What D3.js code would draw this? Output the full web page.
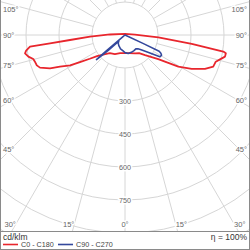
<!DOCTYPE html>
<html>
<head>
<meta charset="utf-8">
<script src="https://cdn.jsdelivr.net/npm/d3@7"></script>
<style>
  html, body { margin: 0; padding: 0; background: #fff; }
  svg { display: block; font-family: "Liberation Sans", Arial, sans-serif; }
</style>
</head>
<body>
<svg id="ldc" width="250" height="250"></svg>
<script>
// polar light distribution curve, values in cd/klm, gamma in degrees from nadir

// C0 - C180 plane (red), one half per side: [gamma, cd/klm]
const c180Left = [
  [0, 82], [15, 85], [28, 98], [40, 107], [46, 125], [53, 159], [56, 193],
  [59, 239], [61, 285], [64, 329], [66, 373], [69, 414], [71, 424],
  [73.5, 427], [75.3, 431], [77.4, 450], [79.6, 462], [81, 455], [83, 435],
  [83.6, 343], [84.8, 251], [87.5, 159], [92, 68], [180, 5]
];
const c0Right = [
  [0, 82], [12, 84], [28.7, 95], [38, 104], [45, 129], [54, 187], [59.3, 282],
  [63, 340], [67, 395], [70.3, 426], [73.6, 430], [75.6, 446], [77.8, 465],
  [79.7, 466], [80.4, 453], [82.5, 306], [86, 152], [91.7, 45], [180, 5]
];

// C90 - C270 plane (blue)
const c270Left = [
  [0, 80], [8, 72], [18, 66], [30, 56], [40, 48], [45, 40], [46.5, 62],
  [47.5, 105], [48.5, 140], [49.3, 171], [49.7, 120], [50.2, 10], [52, 0], [180, 0]
];
const c90Right = [
  [0, 80], [10, 85], [20, 84], [30, 82], [38, 80], [43, 86], [46.5, 96],
  [50, 112], [54, 140], [58, 187], [61, 190], [63, 183], [64.5, 172],
  [65, 90], [65.4, 8], [67, 0], [180, 0]
];

const ringValues = [150, 300, 450, 600, 750, 900, 1050];
const ringLabels = [300, 450, 600, 750];
const spokeAngles = d3.range(0, 181, 15);
const sideLabels = [45, 60, 75, 90, 105];
const bottomLabels = [0, 15, 30];

const legendItems = [
  { name: "C0 - C180", color: "#e8262d" },
  { name: "C90 - C270", color: "#34489c" }
];

const W = 250, H = 250;
const cx = 125, cy = 35;
const plotBottom = 231;

const svg = d3.select("#ldc");
const r = d3.scaleLinear().domain([0, 150]).range([0, 33]);

svg.append("defs").append("clipPath").attr("id", "plotClip")
  .append("rect").attr("x", 0).attr("y", 0).attr("width", W).attr("height", plotBottom);

const grid = svg.append("g").attr("clip-path", "url(#plotClip)");
const g = svg.append("g").attr("transform", `translate(${cx},${cy})`);
const gridInner = grid.append("g").attr("transform", `translate(${cx},${cy})`);

// rings
gridInner.selectAll("circle.ring")
  .data(ringValues)
  .join("circle")
  .attr("class", "ring")
  .attr("r", d => r(d))
  .attr("fill", "none")
  .attr("stroke", "#d6d6d6")
  .attr("stroke-width", 1);

// spokes, both sides, starting at the first ring
const rad = Math.PI / 180;
const spokes = [];
spokeAngles.forEach(a => {
  spokes.push(a);
  if (a !== 0 && a !== 180) spokes.push(-a);
});
gridInner.selectAll("line.spoke")
  .data(spokes)
  .join("line")
  .attr("class", "spoke")
  .attr("x1", d => r(150) * Math.sin(d * rad))
  .attr("y1", d => r(150) * Math.cos(d * rad))
  .attr("x2", d => 400 * Math.sin(d * rad))
  .attr("y2", d => 400 * Math.cos(d * rad))
  .attr("stroke", "#d6d6d6")
  .attr("stroke-width", 1);

// curves: left half at angle pi+gamma, right half at pi-gamma (d3 radial 0 = up)
const radial = d3.lineRadial()
  .angle(d => d[0])
  .radius(d => r(d[1]))
  .curve(d3.curveLinearClosed);

function closedShape(left, right) {
  const pts = left.map(p => [Math.PI + p[0] * rad, p[1]]);
  const rightPts = right.slice().reverse().map(p => [Math.PI - p[0] * rad, p[1]]);
  return pts.concat(rightPts);
}

g.append("path")
  .datum(closedShape(c180Left, c0Right))
  .attr("d", radial)
  .attr("fill", "none")
  .attr("stroke", legendItems[0].color)
  .attr("stroke-width", 1.8)
  .attr("stroke-linejoin", "round");

g.append("path")
  .datum(closedShape(c270Left, c90Right))
  .attr("d", radial)
  .attr("fill", "none")
  .attr("stroke", legendItems[1].color)
  .attr("stroke-width", 1.6)
  .attr("stroke-linejoin", "round");

// ring value labels along the nadir
gridInner.selectAll("text.ringlabel")
  .data(ringLabels)
  .join("text")
  .attr("class", "ringlabel")
  .attr("x", 0)
  .attr("y", d => r(d))
  .attr("dy", "0.35em")
  .attr("text-anchor", "middle")
  .attr("font-size", 7.2)
  .attr("fill", "#666")
  .attr("stroke", "#fff")
  .attr("stroke-width", 3)
  .attr("paint-order", "stroke")
  .text(d => d);

// angle labels on the frame
const angleLab = svg.append("g")
  .attr("font-size", 7.5)
  .attr("fill", "#666");

function halo(sel) {
  return sel.attr("stroke", "#fff").attr("stroke-width", 3).attr("paint-order", "stroke");
}

sideLabels.forEach(a => {
  const t = (cx - 11) / Math.sin(a * rad);
  const y = Math.max(9, cy + t * Math.cos(a * rad));
  halo(angleLab.append("text").attr("x", 3).attr("y", y).attr("dy", "0.35em")
    .attr("text-anchor", "start").text(a + "°"));
  halo(angleLab.append("text").attr("x", W - 3).attr("y", y).attr("dy", "0.35em")
    .attr("text-anchor", "end").text(a + "°"));
});

bottomLabels.forEach(a => {
  const yb = 224;
  const dx = (yb - cy) * Math.tan(a * rad);
  if (a === 0) {
    halo(angleLab.append("text").attr("x", cx).attr("y", yb).attr("dy", "0.35em")
      .attr("text-anchor", "middle").text("0°"));
  } else {
    halo(angleLab.append("text").attr("x", cx - dx).attr("y", yb).attr("dy", "0.35em")
      .attr("text-anchor", "end").text(a + "°"));
    halo(angleLab.append("text").attr("x", cx + dx).attr("y", yb).attr("dy", "0.35em")
      .attr("text-anchor", "start").text(a + "°"));
  }
});

// frame
const frame = svg.append("g").attr("stroke", "#8a8a8a").attr("stroke-width", 1);
frame.append("line").attr("x1", 0.5).attr("y1", 0).attr("x2", 0.5).attr("y2", H);
frame.append("line").attr("x1", W - 0.5).attr("y1", 0).attr("x2", W - 0.5).attr("y2", H);
frame.append("line").attr("x1", 0).attr("y1", H - 0.5).attr("x2", W).attr("y2", H - 0.5);
frame.append("line").attr("x1", 0).attr("y1", plotBottom + 0.5).attr("x2", W).attr("y2", plotBottom + 0.5);

// legend
svg.append("text").attr("x", 3).attr("y", 239.5)
  .attr("font-size", 8.5).attr("fill", "#333").text("cd/klm");
svg.append("text").attr("x", W - 3).attr("y", 239.5)
  .attr("text-anchor", "end")
  .attr("font-size", 8.5).attr("fill", "#333").text("η = 100%");

const legend = svg.append("g");
const legendX = [3, 58];
legendItems.forEach((d, i) => {
  legend.append("line")
    .attr("x1", legendX[i]).attr("x2", legendX[i] + 15)
    .attr("y1", 244.5).attr("y2", 244.5)
    .attr("stroke", d.color).attr("stroke-width", 1.6);
  legend.append("text")
    .attr("x", legendX[i] + 18).attr("y", 247)
    .attr("font-size", 7.2).attr("fill", "#444")
    .text(d.name);
});
</script>
</body>
</html>
